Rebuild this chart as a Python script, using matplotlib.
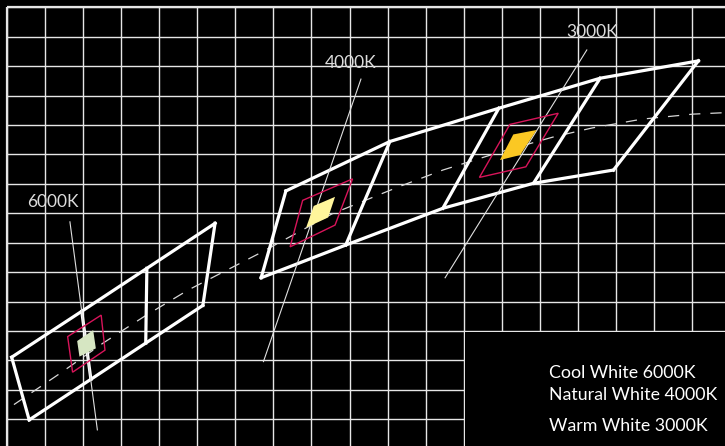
import matplotlib
matplotlib.use("Agg")
import matplotlib.pyplot as plt
from matplotlib.patches import Polygon, Rectangle

# ---- data (CIE-like chromaticity coordinates) ----
grid_x = [round(0.30 + 0.01 * k, 2) for k in range(19)]
grid_y = [round(0.30 + 0.01 * k, 2) for k in range(15)]

# cool-white bin group (top edge / bottom edge points, dividers join them)
cool_top_x = [0.3013, 0.3197, 0.3368, 0.3547]
cool_top_y = [0.3211, 0.3367, 0.3513, 0.3666]
cool_bot_x = [0.3059, 0.3221, 0.3365, 0.3515]
cool_bot_y = [0.2998, 0.3136, 0.3259, 0.3387]

# natural / warm white bin group
warm_top_x = [0.3733, 0.4006, 0.4292, 0.4558, 0.4816]
warm_top_y = [0.3776, 0.3944, 0.4057, 0.4159, 0.4218]
warm_bot_x = [0.3668, 0.3890, 0.4145, 0.4383, 0.4593]
warm_bot_y = [0.3481, 0.3592, 0.3717, 0.3802, 0.3847]

# Planckian locus (dashed)
locus_x = [0.3019, 0.3140, 0.3253, 0.3363, 0.3476, 0.3665, 0.3854, 0.4027,
           0.4145, 0.4295, 0.4434, 0.4537, 0.4668, 0.4802, 0.4886]
locus_y = [0.3050, 0.3156, 0.3259, 0.3351, 0.3439, 0.3565, 0.3698, 0.3789,
           0.3847, 0.3908, 0.3959, 0.3990, 0.4020, 0.4037, 0.4042]

cct_labels = ["6000K", "4000K", "3000K"]
label_x = [0.3122, 0.3904, 0.4536]
label_y = [0.3738, 0.4210, 0.4315]

leader_x0 = [0.3166, 0.3930, 0.4523]
leader_y0 = [0.3671, 0.4156, 0.4255]
leader_x1 = [0.3238, 0.3674, 0.4151]
leader_y1 = [0.2964, 0.3196, 0.3481]

# red tolerance quadrangles
red_x = [[0.3160, 0.3248, 0.3258, 0.3173],
         [0.3777, 0.3908, 0.3862, 0.3744],
         [0.4321, 0.4448, 0.4363, 0.4241]]
red_y = [[0.3281, 0.3354, 0.3235, 0.3160],
         [0.3744, 0.3817, 0.3660, 0.3586],
         [0.4002, 0.4040, 0.3858, 0.3822]]

# filled product bins
fill_x = [[0.3185, 0.3227, 0.3234, 0.3191],
          [0.3806, 0.3862, 0.3844, 0.3786],
          [0.4330, 0.4391, 0.4348, 0.4295]]
fill_y = [[0.3266, 0.3303, 0.3241, 0.3213],
          [0.3725, 0.3756, 0.3686, 0.3651],
          [0.3968, 0.3983, 0.3898, 0.3881]]
fill_colors = ["#d6e6c2", "#fff59b", "#fbc823"]

legend_lines = ["Cool White 6000K", "Natural White 4000K", "Warm White 3000K"]
legend_y = [0.3158, 0.3083, 0.2977]
legend_x = 0.4425

# ---- figure ----
XMIN, XMAX = 0.29824, 0.48858
YMIN, YMAX = 0.29093, 0.44248

fig = plt.figure(figsize=(7.25, 4.46), dpi=100, facecolor="black")
ax = fig.add_axes([0, 0, 1, 1])
ax.set_facecolor("black")
ax.set_xlim(XMIN, XMAX)
ax.set_ylim(YMIN, YMAX)
ax.axis("off")

gcol = "#e6e6e6"
ax.vlines(grid_x, YMIN, grid_y[-1], colors=gcol, lw=1.0, zorder=1)
ax.hlines(grid_y, grid_x[0], XMAX, colors=gcol, lw=1.0, zorder=1)
ax.vlines([grid_x[0]], YMIN, grid_y[-1], colors=gcol, lw=1.6, zorder=1)
ax.hlines([grid_y[-1]], grid_x[0], XMAX, colors=gcol, lw=1.6, zorder=1)

# black legend box in lower right
ax.add_patch(Rectangle((0.4203, YMIN - 0.01), 0.1, 0.3297 - YMIN + 0.01,
                       facecolor="black", edgecolor="none", zorder=2))

# dashed locus
ax.plot(locus_x, locus_y, color="#d8d8d8", lw=0.9, ls=(0, (9, 8)), zorder=3)

# bin groups
def draw_group(tx, ty, bx, by):
    ax.plot(tx, ty, color="white", lw=2.3, zorder=4, solid_joinstyle="miter")
    ax.plot(bx, by, color="white", lw=2.3, zorder=4, solid_joinstyle="miter")
    for i in range(len(tx)):
        ax.plot([tx[i], bx[i]], [ty[i], by[i]], color="white", lw=2.3, zorder=4)

draw_group(cool_top_x, cool_top_y, cool_bot_x, cool_bot_y)
draw_group(warm_top_x, warm_top_y, warm_bot_x, warm_bot_y)

# leader lines
for i in range(3):
    ax.plot([leader_x0[i], leader_x1[i]], [leader_y0[i], leader_y1[i]],
            color="#e0e0e0", lw=0.8, zorder=5)

# red quadrangles and fills
for i in range(3):
    ax.add_patch(Polygon(list(zip(red_x[i], red_y[i])), closed=True, fill=False,
                         edgecolor="#d8145a", lw=1.0, zorder=6))
    ax.add_patch(Polygon(list(zip(fill_x[i], fill_y[i])), closed=True,
                         facecolor=fill_colors[i], edgecolor="none", zorder=7))

# labels
for i in range(3):
    ax.text(label_x[i], label_y[i], cct_labels[i], color="#dcdcdc",
            fontsize=12.5, family="Lato", ha="center", va="center", zorder=8)

for t, y in zip(legend_lines, legend_y):
    ax.text(legend_x, y, t, color="white", fontsize=12.8, family="Lato",
            ha="left", va="center", zorder=8)

fig.savefig("out.png", dpi=100, facecolor="black")
